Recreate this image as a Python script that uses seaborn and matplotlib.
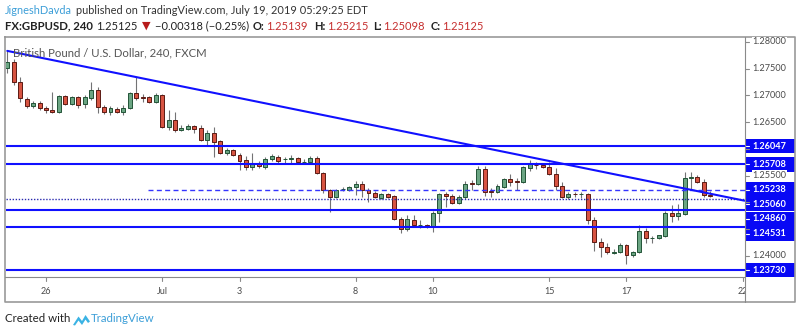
import numpy as np
import pandas as pd
import matplotlib
matplotlib.use("Agg")
import matplotlib.pyplot as plt
from matplotlib.patches import Rectangle, Polygon
import seaborn as sns

# ---------------- data (GBPUSD, 4h candles, 25 Jun - 19 Jul 2019) ----------------
opens = [1.2751, 1.2762, 1.2725, 1.2693, 1.2680, 1.2686, 1.2676, 1.2672, 1.2669, 1.2699,
         1.2684, 1.2697, 1.2684, 1.2695, 1.2710, 1.2678, 1.2669, 1.2674, 1.2669, 1.2676,
         1.2704, 1.2696, 1.2697, 1.2687, 1.2700, 1.2641, 1.2654, 1.2635, 1.2637, 1.2643,
         1.2639, 1.2616, 1.2629, 1.2614, 1.2592, 1.2598, 1.2588, 1.2579, 1.2566, 1.2573,
         1.2566, 1.2581, 1.2584, 1.2580, 1.2580, 1.2583, 1.2575, 1.2575, 1.2583, 1.2555,
         1.2523, 1.2510, 1.2524, 1.2523, 1.2529, 1.2534, 1.2523, 1.2517, 1.2508, 1.2516,
         1.2512, 1.2469, 1.2450, 1.2467, 1.2457, 1.2457, 1.2454, 1.2480, 1.2516, 1.2512,
         1.2499, 1.2510, 1.2536, 1.2534, 1.2562, 1.2520, 1.2519, 1.2529, 1.2543, 1.2540,
         1.2538, 1.2564, 1.2570, 1.2570, 1.2566, 1.2553, 1.2530, 1.2510, 1.2516, 1.2515,
         1.2516, 1.2467, 1.2426, 1.2416, 1.2406, 1.2407, 1.2420, 1.2401, 1.2407, 1.2446,
         1.2433, 1.2433, 1.2437, 1.2480, 1.2474, 1.2478, 1.2545, 1.2547, 1.2538, 1.25139]
highs = [1.2785, 1.2768, 1.2734, 1.2697, 1.2689, 1.2689, 1.2680, 1.2706, 1.2700, 1.2700,
         1.2699, 1.2699, 1.2700, 1.2725, 1.2715, 1.2682, 1.2680, 1.2678, 1.2682, 1.2706,
         1.2734, 1.2702, 1.2699, 1.2704, 1.2702, 1.2672, 1.2669, 1.2644, 1.2646, 1.2644,
         1.2644, 1.2635, 1.2641, 1.2616, 1.2601, 1.2599, 1.2592, 1.2586, 1.2592, 1.2577,
         1.2584, 1.2590, 1.2588, 1.2584, 1.2588, 1.2584, 1.2581, 1.2586, 1.2586, 1.2557,
         1.2525, 1.2525, 1.2529, 1.2530, 1.2540, 1.2540, 1.2527, 1.2521, 1.2517, 1.2517,
         1.2514, 1.2472, 1.2476, 1.2476, 1.2467, 1.2459, 1.2484, 1.2517, 1.2519, 1.2516,
         1.2514, 1.2540, 1.2542, 1.2568, 1.2568, 1.2527, 1.2534, 1.2545, 1.2553, 1.2545,
         1.2568, 1.2579, 1.2575, 1.2573, 1.2575, 1.2564, 1.2538, 1.2519, 1.2519, 1.2519,
         1.2517, 1.2472, 1.2433, 1.2424, 1.2413, 1.2424, 1.2422, 1.2409, 1.2457, 1.2452,
         1.2437, 1.2439, 1.2484, 1.2495, 1.2497, 1.2557, 1.2557, 1.2551, 1.2543, 1.25215]
lows = [1.2742, 1.2719, 1.2687, 1.2676, 1.2676, 1.2672, 1.2667, 1.2667, 1.2667, 1.2682,
        1.2682, 1.2676, 1.2676, 1.2691, 1.2667, 1.2665, 1.2663, 1.2667, 1.2663, 1.2674,
        1.2691, 1.2687, 1.2686, 1.2686, 1.2639, 1.2635, 1.2631, 1.2633, 1.2635, 1.2629,
        1.2614, 1.2607, 1.2584, 1.2590, 1.2588, 1.2586, 1.2560, 1.2560, 1.2560, 1.2564,
        1.2562, 1.2577, 1.2573, 1.2573, 1.2573, 1.2573, 1.2571, 1.2573, 1.2553, 1.2517,
        1.2482, 1.2508, 1.2521, 1.2521, 1.2514, 1.2510, 1.2500, 1.2508, 1.2506, 1.2508,
        1.2467, 1.2442, 1.2446, 1.2454, 1.2452, 1.2452, 1.2444, 1.2463, 1.2491, 1.2497,
        1.2497, 1.2506, 1.2523, 1.2532, 1.2512, 1.2510, 1.2517, 1.2527, 1.2530, 1.2523,
        1.2536, 1.2558, 1.2562, 1.2564, 1.2551, 1.2523, 1.2508, 1.2506, 1.2510, 1.2508,
        1.2459, 1.2409, 1.2398, 1.2403, 1.2403, 1.2405, 1.2384, 1.2398, 1.2405, 1.2424,
        1.2424, 1.2431, 1.2435, 1.2463, 1.2467, 1.2476, 1.2525, 1.2536, 1.2510, 1.25098]
closes = [1.2762, 1.2725, 1.2695, 1.2680, 1.2686, 1.2676, 1.2672, 1.2669, 1.2699, 1.2684,
          1.2697, 1.2682, 1.2697, 1.2710, 1.2678, 1.2669, 1.2676, 1.2669, 1.2676, 1.2704,
          1.2695, 1.2695, 1.2687, 1.2700, 1.2641, 1.2654, 1.2635, 1.2639, 1.2643, 1.2637,
          1.2616, 1.2629, 1.2612, 1.2592, 1.2598, 1.2588, 1.2577, 1.2566, 1.2573, 1.2568,
          1.2581, 1.2586, 1.2577, 1.2581, 1.2583, 1.2575, 1.2576, 1.2583, 1.2555, 1.2523,
          1.2510, 1.2523, 1.2525, 1.2529, 1.2534, 1.2523, 1.2517, 1.2510, 1.2516, 1.2510,
          1.2469, 1.2450, 1.2469, 1.2457, 1.2458, 1.2454, 1.2480, 1.2516, 1.2512, 1.2499,
          1.2510, 1.2534, 1.2534, 1.2562, 1.2519, 1.2519, 1.2530, 1.2543, 1.2538, 1.2538,
          1.2566, 1.2571, 1.2569, 1.2566, 1.2553, 1.2530, 1.2510, 1.2516, 1.2515, 1.2516,
          1.2467, 1.2426, 1.2416, 1.2407, 1.2407, 1.2420, 1.2401, 1.2407, 1.2446, 1.2433,
          1.2434, 1.2439, 1.2480, 1.2474, 1.2480, 1.2545, 1.2547, 1.2538, 1.2514, 1.25125]

date_tick_pos = [6, 24, 36, 54, 66, 84, 96, 114]
date_tick_labels = ["26", "Jul", "3", "8", "10", "15", "17", "22"]
price_ticks = [1.28, 1.275, 1.27, 1.265, 1.26, 1.255, 1.25, 1.245, 1.24]
solid_levels = [1.26047, 1.25708, 1.24860, 1.24531, 1.23730]
dashed_level = 1.25238
dashed_start = 21.8
dotted_level = 1.25060
trend_x = [0.0, 114.3]
trend_y = [1.2783, 1.2503]

header_name = "JigneshDavda"
header_rest = "published on TradingView.com, July 19, 2019 05:29:25 EDT"
chart_title = "British Pound / U.S. Dollar, 240, FXCM"

# ---------------- style ----------------
sns.set_style("white")
plt.rcParams['font.family'] = ['Lato', 'DejaVu Sans']

W, H = 800, 334
fig = plt.figure(figsize=(W / 100, H / 100), dpi=100)
fig.patch.set_facecolor('white')

PL, PR, PT, PB = 5.5, 745.0, 37.5, 277.0
FB = 302.0
ax = fig.add_axes([PL / W, 1 - PB / H, (PR - PL) / W, (PB - PT) / H])
STEP, X0 = 6.45, 7.3
PX_PER_UNIT, Y128 = 5350.0, 41.8
ax.set_xlim((PL - X0) / STEP, (PR - X0) / STEP)
ax.set_ylim(1.28 - (PB - Y128) / PX_PER_UNIT, 1.28 + (Y128 - PT) / PX_PER_UNIT)
ax.set_xticks([]); ax.set_yticks([])
for s in ax.spines.values():
    s.set_visible(False)

def ypx(p):
    return Y128 + (1.28 - p) * PX_PER_UNIT

BLUE = '#1010ff'

# levels
for lv in solid_levels:
    ax.axhline(lv, color=BLUE, lw=1.5, zorder=4)
ax.hlines(dashed_level, dashed_start, 200, color='#3535ff', lw=1.0,
          linestyles=[(0, (3.6, 2.4))], zorder=4)
ax.axhline(dotted_level, color='#2b2bb0', lw=1.0, ls=(0, (1, 1.2)), zorder=4)
sns.lineplot(x=trend_x, y=trend_y, ax=ax, color=BLUE, lw=1.5, zorder=5)

# candles
df = pd.DataFrame({'open': opens, 'high': highs, 'low': lows, 'close': closes})
df['idx'] = np.arange(len(df))
up = (df['close'] >= df['open']).values
lo = np.minimum(df['open'], df['close']).values
hgt = np.maximum(np.abs(df['close'] - df['open']).values, 0.00012)
ax.vlines(df['idx'], df['low'], df['high'], color='#737375', lw=0.8, zorder=2)
ax.bar(df['idx'][up], hgt[up], bottom=lo[up], width=0.62, color='#6ba583',
       edgecolor='#225437', linewidth=0.7, zorder=3)
ax.bar(df['idx'][~up], hgt[~up], bottom=lo[~up], width=0.62, color='#d75442',
       edgecolor='#5b1a13', linewidth=0.7, zorder=3)

# date axis
dax = fig.add_axes([PL / W, 1 - FB / H, (PR - PL) / W, (FB - PB) / H])
dax.set_xlim(ax.get_xlim()); dax.set_ylim(0, FB - PB)
dax.axis('off')
for pos, lab in zip(date_tick_pos, date_tick_labels):
    dax.plot([pos, pos], [FB - PB, FB - PB - 4], color='#8a8a8a', lw=0.8, clip_on=True)
    dax.text(pos, FB - 291, lab, ha='center', va='center', fontsize=6.5,
             color='#4a4a4a', clip_on=True)

# overlay in pixel coordinates
ov = fig.add_axes([0, 0, 1, 1], zorder=10)
ov.set_xlim(0, W); ov.set_ylim(H, 0)
ov.axis('off')
FRAME = '#9a9a9a'
ov.plot([5, 795, 795, 5, 5], [37, 37, FB, FB, 37], color=FRAME, lw=1.2)
ov.plot([PR, PR], [37, FB], color='#8a8a8a', lw=0.8)
ov.plot([5, PR], [PB, PB], color='#8a8a8a', lw=0.8)

# price axis labels
box_levels = sorted(solid_levels + [dashed_level, dotted_level], reverse=True)
centers = []
last = -1e9
for lv in box_levels:
    c = max(ypx(lv), last + 14.7)
    centers.append(c)
    last = c
for pt in price_ticks:
    y = ypx(pt)
    ov.plot([PR, PR + 4], [y, y], color='#8a8a8a', lw=0.8)
    if all(abs(y - c) > 11 for c in centers):
        ov.text(752.5, y, f"{pt:.5f}", ha='left', va='center', fontsize=6.6,
                color='#4a4a4a', bbox=dict(fc='white', ec='none', pad=0.5))
for lv, c in zip(box_levels, centers):
    ov.add_patch(Rectangle((PR + 0.5, c - 7.2), 795 - PR - 0.5, 14.4, fc='#0808f5', ec='none'))
    ov.plot([PR + 1, PR + 4], [c, c], color='white', lw=0.8)
    ov.text(752.5, c, f"{lv:.5f}", ha='left', va='center', fontsize=6.6,
            color='white', fontweight='bold')

# chart title
ov.text(13, 53, chart_title, ha='left', va='center', fontsize=8.2, color='#555555')

renderer = fig.canvas.get_renderer()

def chain(x, y, parts, size):
    for s, col, wt, fam, gap in parts:
        t = ov.text(x, y, s, ha='left', va='center', fontsize=size, color=col,
                    fontweight=wt, family=fam)
        x += t.get_window_extent(renderer=renderer).width + gap
    return x

LATO = ['Lato', 'DejaVu Sans']
DJ = ['DejaVu Sans']
# header line 1
chain(5, 10, [(header_name, '#3d9fd8', 'normal', LATO, 3.5),
              (header_rest, '#333333', 'normal', LATO, 0)], 7.95)

# header line 2
RED = '#c62f2f'
DARK = '#222222'
ov.text(5, 26, "FX:GBPUSD, 240", ha='left', va='center', fontsize=8.2, color=DARK,
        fontweight='bold', family=LATO)
chain(96, 26, [("1.25125", DARK, 'normal', LATO, 4.5),
               ("\u25BC", '#b71c1c', 'normal', DJ, 4.5),
               ("\u22120.00318 (\u22120.25%)", DARK, 'normal', LATO, 4),
               ("O:", DARK, 'bold', LATO, 1.5),
               ("1.25139", RED, 'normal', LATO, 6),
               ("H:", DARK, 'bold', LATO, 1.5),
               ("1.25215", RED, 'normal', LATO, 5),
               ("L:", DARK, 'bold', LATO, 1.5),
               ("1.25098", RED, 'normal', LATO, 6),
               ("C:", DARK, 'bold', LATO, 1.5),
               ("1.25125", RED, 'normal', LATO, 0)], 8.0)

# footer
ov.text(5, 319, "Created with", ha='left', va='center', fontsize=8.3, color='#222222')
ov.add_patch(Polygon([(73, 325), (78.5, 316.5), (82, 321), (85.5, 315), (90, 321.5),
                      (88, 323), (85.5, 319.5), (82, 325), (78.5, 320.5), (75, 325.5)],
                     closed=True, fc='#3bb3e4', ec='none'))
ov.text(90.5, 319, "TradingView", ha='left', va='center', fontsize=8.3, color='#3d9fd8')

fig.savefig("out.png", dpi=100, facecolor='white')
